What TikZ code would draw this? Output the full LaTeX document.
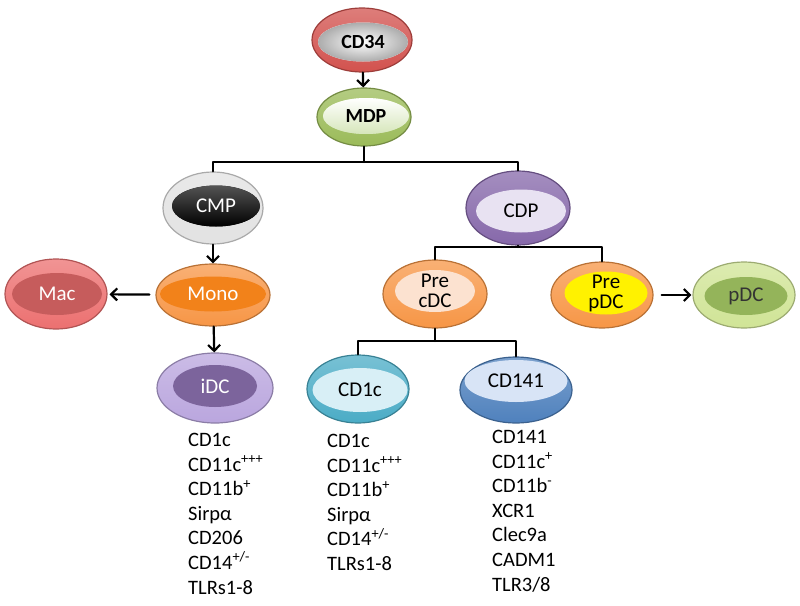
\documentclass[tikz,border=0pt]{standalone}
\usepackage{fontspec}
\setmainfont{Carlito}
\usetikzlibrary{arrows.meta, shapes.geometric}

\definecolor{redrim}{RGB}{210,82,78}
\definecolor{greenrim}{RGB}{155,187,89}
\definecolor{greencore}{RGB}{214,230,186}
\definecolor{greyrim}{RGB}{226,226,226}
\definecolor{purplerim}{RGB}{134,104,170}
\definecolor{purplecore}{RGB}{232,226,242}
\definecolor{macrim}{RGB}{236,112,112}
\definecolor{maccore}{RGB}{198,92,92}
\definecolor{orangerim}{RGB}{247,150,70}
\definecolor{monocore}{RGB}{242,130,26}
\definecolor{precore}{RGB}{252,226,208}
\definecolor{idcrim}{RGB}{186,166,222}
\definecolor{idccore}{RGB}{124,100,156}
\definecolor{pdcrim}{RGB}{208,228,150}
\definecolor{pdccore}{RGB}{148,180,90}
\definecolor{tealrim}{RGB}{75,172,198}
\definecolor{tealcore}{RGB}{216,239,246}
\definecolor{bluerim}{RGB}{79,129,189}
\definecolor{bluecore}{RGB}{216,228,246}

\tikzset{
  rim/.style={ellipse, inner sep=0pt, line width=1.2pt, draw=#1!75!black,
    top color=#1!75!white, bottom color=#1},
  core/.style={ellipse, inner sep=-10pt, fill=#1, align=center},
  fork/.style={line width=2.2pt},
  flow/.style={line width=2.2pt, -{Straight Barb[length=6pt, width=12pt]}},
  markers/.style={align=left, anchor=north west, inner sep=0pt,
    font=\fontsize{20.5}{24.6}\selectfont}
}

\begin{document}
\begin{tikzpicture}[line cap=round,line join=round,x=1pt,y=-1pt,
  font=\fontsize{21}{20}\selectfont]
\useasboundingbox (0,0) rectangle (800,605);

\node[rim=redrim, minimum width=100, minimum height=64] (cd34) at (362,40) {};
\node[core=white, inner color=white, outer color=gray!65, minimum width=90, minimum height=39] (cd34-in) at (363,42) {\bfseries\fontsize{20}{20}\selectfont CD34};

\node[rim=greenrim, minimum width=94, minimum height=58] (mdp) at (364,117) {};
\node[core=greencore, top color=white, bottom color=greencore, minimum width=86, minimum height=36] (mdp-in) at (366,116) {\bfseries\fontsize{20}{20}\selectfont MDP};

\node[rim=greyrim, minimum width=100, minimum height=72] (cmp) at (213,208) {};
\node[core=black, top color=gray!65!black, bottom color=black, text=white, minimum width=88, minimum height=41] (cmp-in) at (216,206) {CMP};

\node[rim=purplerim, minimum width=104, minimum height=74] (cdp) at (518,208) {};
\node[core=purplecore, minimum width=90, minimum height=43] (cdp-in) at (521,211) {CDP};

\node[rim=macrim, minimum width=102, minimum height=70] (mac) at (56,294) {};
\node[core=maccore, text=white, minimum width=90, minimum height=42] (mac-in) at (57,294) {Mac};

\node[rim=orangerim, minimum width=114, minimum height=62] (mono) at (213,295) {};
\node[core=monocore, text=white, minimum width=106, minimum height=35] (mono-in) at (213,294) {Mono};

\node[rim=idcrim, minimum width=116, minimum height=70] (idc) at (215,388) {};
\node[core=idccore, text=white, minimum width=84, minimum height=42] (idc-in) at (215,386) {iDC};

\node[rim=orangerim, minimum width=104, minimum height=68] (precdc) at (435,294) {};
\node[core=precore, minimum width=80, minimum height=42] (precdc-in) at (435,291) {Pre\\cDC};

\node[rim=orangerim, minimum width=102, minimum height=66] (prepdc) at (602,295) {};
\node[core=yellow, minimum width=83, minimum height=43] (prepdc-in) at (606,293) {Pre\\pDC};

\node[rim=pdcrim, minimum width=102, minimum height=66] (pdc) at (744,295) {};
\node[core=pdccore, text=black!80, minimum width=83, minimum height=38] (pdc-in) at (746,296) {pDC};

\node[rim=tealrim, minimum width=102, minimum height=68] (cd1c) at (358,389) {};
\node[core=tealcore, minimum width=95, minimum height=44] (cd1c-in) at (360,390) {CD1c};

\node[rim=bluerim, minimum width=112, minimum height=66] (cd141) at (516,390) {};
\node[core=bluecore, minimum width=103, minimum height=42] (cd141-in) at (516,381) {CD141};

\coordinate (mdp-fork) at (364,162);
\coordinate (cdp-fork) at (518,247);
\coordinate (precdc-fork) at (435,341);

\draw[flow] (cd34) -- (mdp);
\draw[fork] (mdp.south) -- (mdp-fork);
\draw[fork] (cmp.north) |- (mdp-fork) -| (cdp.north);
\draw[flow] (cmp) -- (mono);
\draw[flow, shorten <=6pt, shorten >=2pt] (mono) -- (mac);
\draw[flow] (mono) -- (idc);
\draw[fork] (cdp.south) -- (cdp-fork);
\draw[fork] (precdc.north) |- (cdp-fork) -| (prepdc.north);
\draw[flow, shorten <=8pt, shorten >=1pt] (prepdc) -- (pdc);
\draw[fork] (precdc.south) -- (precdc-fork);
\draw[fork] (cd1c.north) |- (precdc-fork) -| (cd141.north);

\node[markers] (idc-list) at (188,433) {CD1c\\CD11c\textsuperscript{+++}\\CD11b\textsuperscript{+}\\Sirpα\\CD206\\CD14\textsuperscript{+/-}\\TLRs1-8};
\node[markers] (cd1c-list) at (327,434) {CD1c\\CD11c\textsuperscript{+++}\\CD11b\textsuperscript{+}\\Sirpα\\CD14\textsuperscript{+/-}\\TLRs1-8};
\node[markers] (cd141-list) at (492,430) {CD141\\CD11c\textsuperscript{+}\\CD11b\textsuperscript{-}\\XCR1\\Clec9a\\CADM1\\TLR3/8};

\end{tikzpicture}
\end{document}
